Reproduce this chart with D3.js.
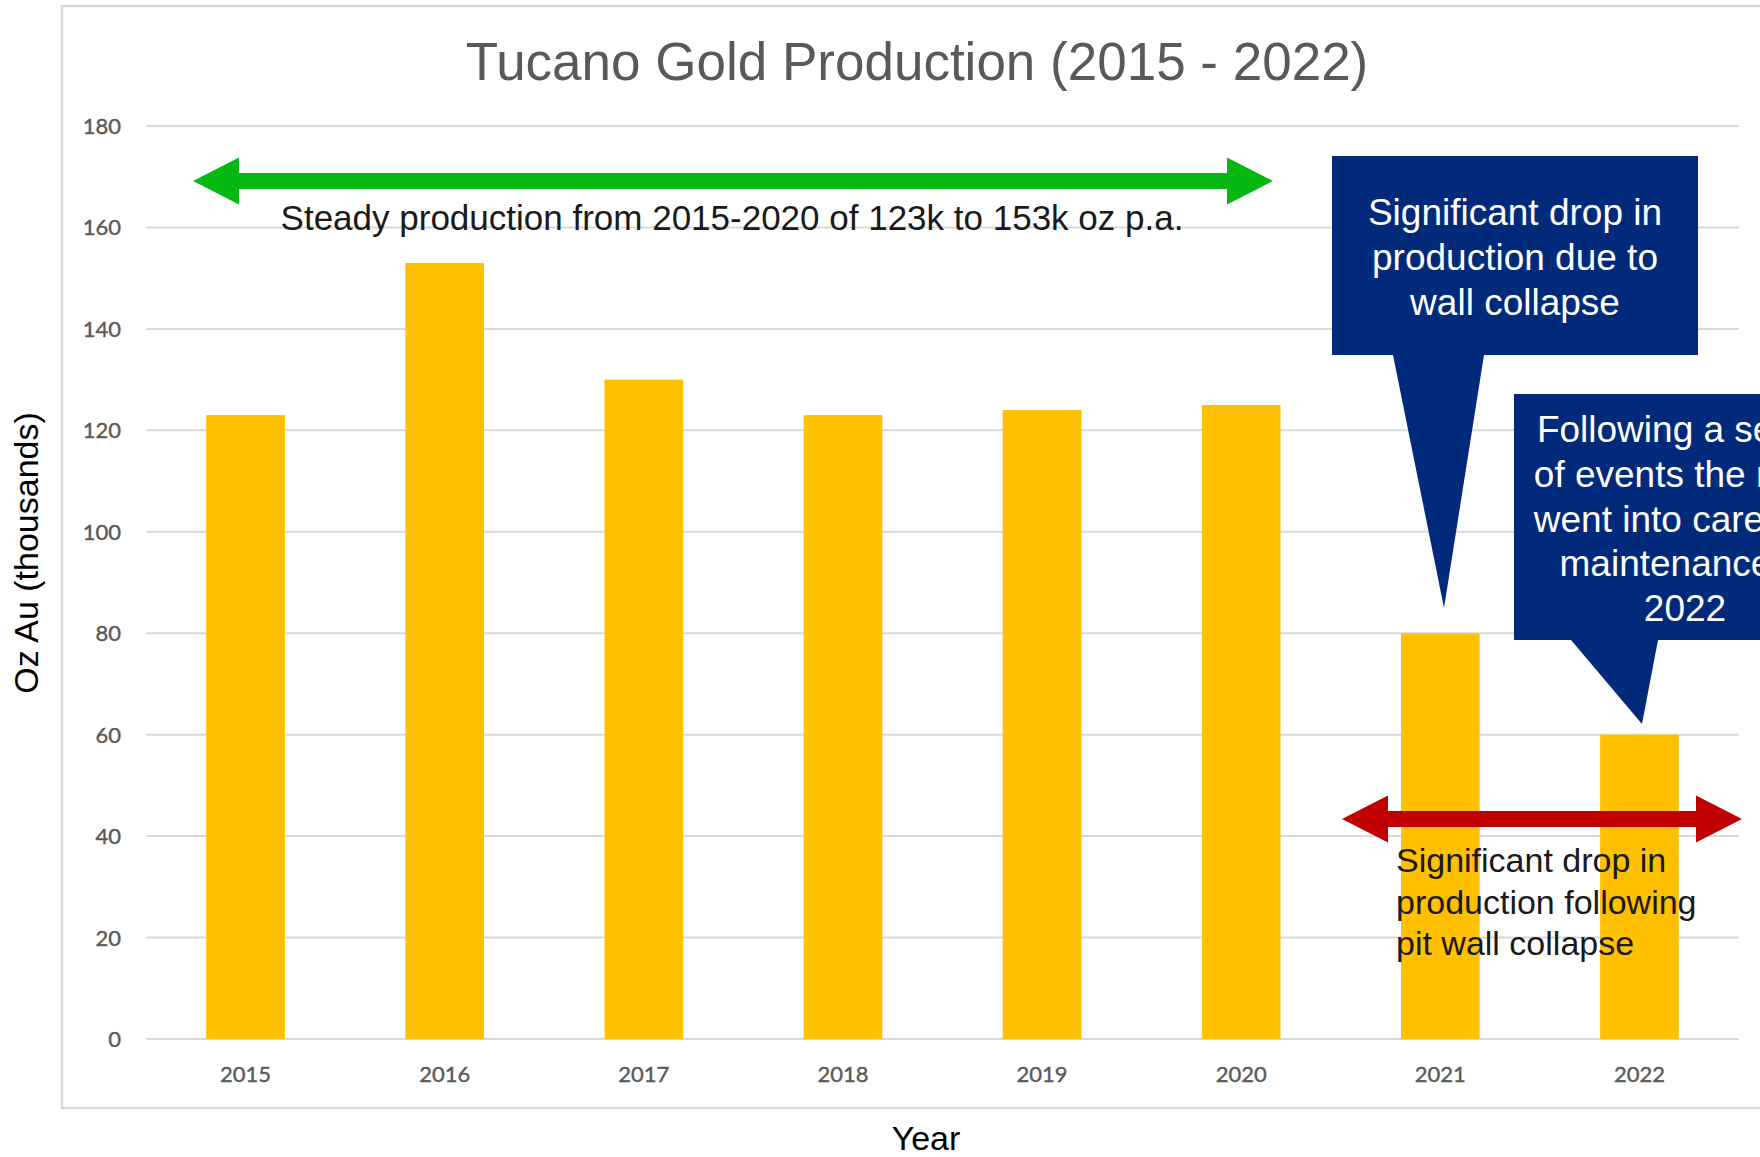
<!DOCTYPE html>
<html lang="en">
<head>
  <meta charset="UTF-8">
  <title>Tucano Gold Production (2015 - 2022)</title>
  <script src="https://d3js.org/d3.v7.min.js"></script>
  <style>
    body {
      margin: 0;
      overflow: hidden;
      background: #fff;
    }

    svg {
      display: block;
    }

    .tick-label {
      font-family: Lato, "Open Sans", sans-serif;
      font-size: 22px;
      fill: #595959;
      stroke: #595959;
      stroke-width: 0.4px;
    }

    .note {
      font-family: "Liberation Sans", Arial, sans-serif;
      font-size: 34px;
      fill: #1a1a1a;
    }

    .callout text {
      font-family: "Liberation Sans", Arial, sans-serif;
      font-size: 37px;
      fill: #fff;
      text-anchor: middle;
    }
  </style>
</head>
<body>
  <script>
    // data
    const years = ["2015", "2016", "2017", "2018", "2019", "2020", "2021", "2022"];
    const production = [123, 153, 130, 123, 124, 125, 80, 60];
    const yTicks = [0, 20, 40, 60, 80, 100, 120, 140, 160, 180];

    const steadyNote = "Steady production from 2015-2020 of 123k to 153k oz p.a.";
    const dropNote = ["Significant drop in", "production following", "pit wall collapse"];
    const callout1 = ["Significant drop in", "production due to", "wall collapse"];
    const callout2 = ["Following a series", "of events the mine", "went into care and", "maintenance in", "2022"];

    const width = 1760;
    const height = 1157;

    const svg = d3.select("body").append("svg")
      .attr("width", width)
      .attr("height", height);

    // chart frame (runs off the right edge like the source)
    svg.append("rect")
      .attr("x", 62).attr("y", 6)
      .attr("width", 1760).attr("height", 1102)
      .attr("fill", "none")
      .attr("stroke", "#d9d9d9")
      .attr("stroke-width", 2.5);

    const x = d3.scaleBand()
      .domain(years)
      .range([146, 1739])
      .paddingInner(0.605)
      .paddingOuter(0.3025);

    const y = d3.scaleLinear()
      .domain([0, 180])
      .range([1039, 126]);

    // gridlines
    svg.append("g")
      .selectAll("line")
      .data(yTicks)
      .join("line")
      .attr("x1", 146)
      .attr("x2", 1739)
      .attr("y1", d => y(d))
      .attr("y2", d => y(d))
      .attr("stroke", "#d9d9d9")
      .attr("stroke-width", 2);

    // y tick labels
    svg.append("g")
      .selectAll("text")
      .data(yTicks)
      .join("text")
      .attr("class", "tick-label")
      .attr("x", 121)
      .attr("y", d => y(d) + 8)
      .attr("text-anchor", "end")
      .text(d => d);

    // bars
    svg.append("g")
      .selectAll("rect")
      .data(years)
      .join("rect")
      .attr("x", d => x(d))
      .attr("width", x.bandwidth())
      .attr("y", (d, i) => y(production[i]))
      .attr("height", (d, i) => y(0) - y(production[i]))
      .attr("fill", "#ffc000");

    // x tick labels
    svg.append("g")
      .selectAll("text")
      .data(years)
      .join("text")
      .attr("class", "tick-label")
      .attr("x", d => x(d) + x.bandwidth() / 2)
      .attr("y", 1082)
      .attr("text-anchor", "middle")
      .text(d => d);

    // title + axis titles
    svg.append("text")
      .attr("x", 917)
      .attr("y", 80)
      .attr("text-anchor", "middle")
      .style("font-family", "'Liberation Sans', Arial, sans-serif")
      .style("font-size", "53px")
      .style("fill", "#595959")
      .text("Tucano Gold Production (2015 - 2022)");

    svg.append("text")
      .attr("class", "note")
      .attr("transform", "translate(38,553) rotate(-90)")
      .attr("text-anchor", "middle")
      .style("fill", "#000")
      .text("Oz Au (thousands)");

    svg.append("text")
      .attr("class", "note")
      .attr("x", 926)
      .attr("y", 1150)
      .attr("text-anchor", "middle")
      .style("fill", "#000")
      .text("Year");

    // double headed arrow: shaft half-thickness t, head length hl, head half-height hh
    function doubleArrow(x1, x2, cy, color) {
      const t = 8, hl = 46, hh = 23.5;
      const pts = [
        [x1, cy], [x1 + hl, cy - hh], [x1 + hl, cy - t],
        [x2 - hl, cy - t], [x2 - hl, cy - hh], [x2, cy],
        [x2 - hl, cy + hh], [x2 - hl, cy + t], [x1 + hl, cy + t],
        [x1 + hl, cy + hh]
      ];
      svg.append("path")
        .attr("d", "M" + pts.join("L") + "Z")
        .attr("fill", color);
    }

    doubleArrow(193, 1273, 181, "#04b711");

    svg.append("text")
      .attr("class", "note")
      .attr("x", 732)
      .attr("y", 230)
      .attr("text-anchor", "middle")
      .style("font-size", "35px")
      .text(steadyNote);

    doubleArrow(1342, 1742, 819, "#c00000");

    svg.append("g")
      .selectAll("text")
      .data(dropNote)
      .join("text")
      .attr("class", "note")
      .attr("x", 1396)
      .attr("y", (d, i) => 872 + i * 41.5)
      .text(d => d);

    // callout boxes with pointer
    function callout(box, tip, lines, cx, firstBase) {
      const g = svg.append("g").attr("class", "callout");
      const [bx, by, bw, bh] = box;
      const b = by + bh;
      g.append("path")
        .attr("d", `M${bx},${by}H${bx + bw}V${b}H${tip[1]}L${tip[2]},${tip[3]}L${tip[0]},${b}H${bx}Z`)
        .attr("fill", "#012a7b");
      g.selectAll("text")
        .data(lines)
        .join("text")
        .attr("x", cx)
        .attr("y", (d, i) => firstBase + i * 44.8)
        .text(d => d);
    }

    callout([1332, 156, 366, 199], [1393, 1484, 1444, 608], callout1, 1515, 225);
    callout([1514, 394, 342, 246], [1571, 1658, 1642, 724], callout2, 1685, 442);
  </script>
</body>
</html>
